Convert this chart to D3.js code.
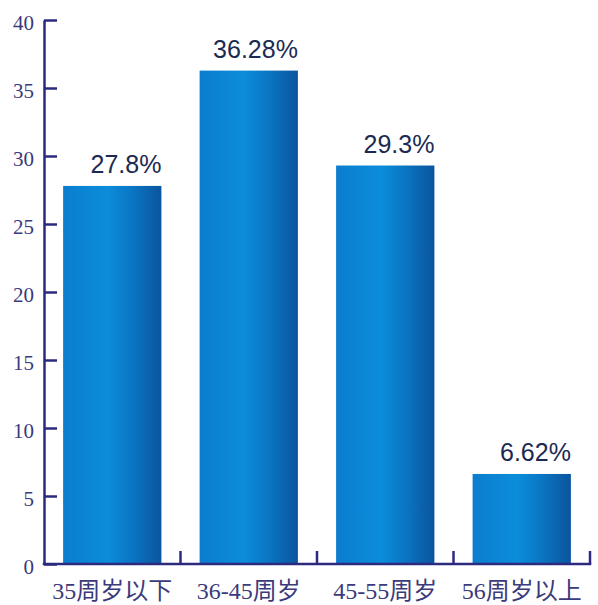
<!DOCTYPE html>
<html>
<head>
<meta charset="utf-8">
<script src="https://cdn.jsdelivr.net/npm/d3@7"></script>
<style>
  body { margin: 0; background: #fff; }
</style>
</head>
<body>
<script>
const categories = ['35周岁以下', '36-45周岁', '45-55周岁', '56周岁以上'];
const values = [27.8, 36.28, 29.3, 6.62];
const valueLabels = ['27.8%', '36.28%', '29.3%', '6.62%'];
const yTicks = [0, 5, 10, 15, 20, 25, 30, 35, 40];

const w = 598;
const h = 605;
const plotLeft = 44;
const plotRight = 590;
const plotTop = 20;
const plotBottom = 564;
const axisColor = '#2c2a7e';

const svg = d3
	.select('body')
	.append('svg')
	.attr('width', w)
	.attr('height', h);

const defs = svg.append('defs');
const grad = defs
	.append('linearGradient')
	.attr('id', 'barGrad')
	.attr('x1', '0%')
	.attr('x2', '100%')
	.attr('y1', '0%')
	.attr('y2', '0%');
grad.append('stop').attr('offset', '0%').attr('stop-color', '#0b7dcf');
grad.append('stop').attr('offset', '45%').attr('stop-color', '#0b8dda');
grad.append('stop').attr('offset', '70%').attr('stop-color', '#0a76c3');
grad.append('stop').attr('offset', '100%').attr('stop-color', '#0c549f');

const xScale = d3
	.scaleBand()
	.domain(categories)
	.range([plotLeft, plotRight])
	.paddingInner(0.28)
	.paddingOuter(0.14);

const yScale = d3
	.scaleLinear()
	.domain([0, 40])
	.range([plotBottom, plotTop]);

// bars
svg
	.selectAll('rect.bar')
	.data(values)
	.enter()
	.append('rect')
	.attr('class', 'bar')
	.attr('x', (d, i) => xScale(categories[i]))
	.attr('y', d => yScale(d))
	.attr('width', xScale.bandwidth())
	.attr('height', d => yScale(0) - yScale(d))
	.attr('fill', 'url(#barGrad)');

// value labels
svg
	.selectAll('text.val')
	.data(values)
	.enter()
	.append('text')
	.attr('class', 'val')
	.attr('x', (d, i) => xScale(categories[i]) + xScale.bandwidth())
	.attr('y', d => yScale(d) - 13)
	.attr('text-anchor', 'end')
	.attr('font-family', '"Liberation Sans", Arial, sans-serif')
	.attr('font-size', 25)
	.attr('fill', '#1c2a52')
	.text((d, i) => valueLabels[i]);

// y axis
const yAxis = d3
	.axisLeft(yScale)
	.tickValues(yTicks)
	.tickSizeInner(-13)
	.tickSizeOuter(0)
	.tickPadding(10);

const gy = svg
	.append('g')
	.attr('transform', `translate(${plotLeft},0)`)
	.call(yAxis);
gy.selectAll('path, line').attr('stroke', axisColor).attr('stroke-width', 2.5);
gy.selectAll('text')
	.attr('font-family', '"Liberation Serif", "Noto Sans CJK SC", serif')
	.attr('font-size', 21)
	.attr('fill', '#3b3a7a')
	.attr('dy', '0.45em');

// x axis
const xAxis = d3.axisBottom(xScale).tickSize(0).tickPadding(16);
const gx = svg
	.append('g')
	.attr('transform', `translate(0,${plotBottom})`)
	.call(xAxis);
gx.select('path.domain')
	.attr('stroke', axisColor)
	.attr('stroke-width', 2.5)
	.attr('d', `M${plotLeft - 1.25},0H${plotRight + 1.25}`);
gx.selectAll('text')
	.attr('font-family', '"Liberation Serif", "Noto Sans CJK SC", serif')
	.attr('font-size', 24)
	.attr('fill', '#3b3a7a')
	.attr('dy', '0.8em');

// boundary ticks between categories
const bounds = d3.range(1, categories.length + 1).map(i => plotLeft + i * xScale.step());
svg
	.selectAll('line.sep')
	.data(bounds)
	.enter()
	.append('line')
	.attr('class', 'sep')
	.attr('x1', d => d)
	.attr('x2', d => d)
	.attr('y1', plotBottom)
	.attr('y2', plotBottom - 13)
	.attr('stroke', axisColor)
	.attr('stroke-width', 2.5);
</script>
</body>
</html>
